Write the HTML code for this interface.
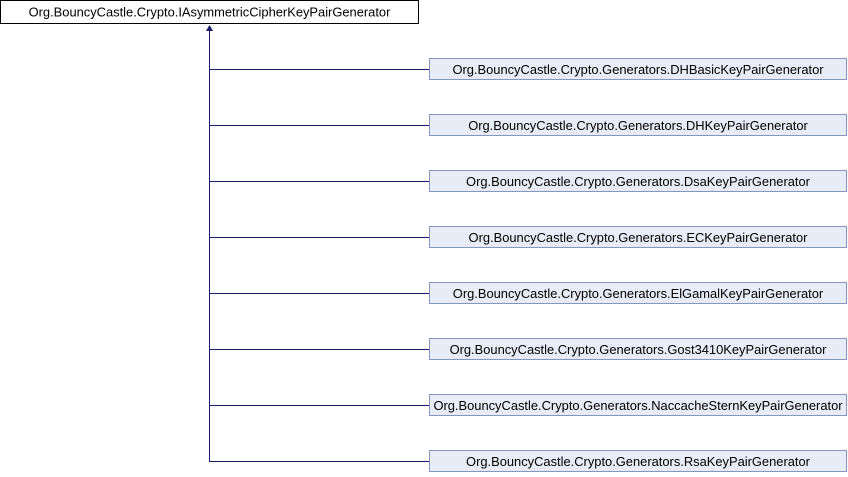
<!DOCTYPE html>
<html><head><meta charset="utf-8"><style>
body{margin:0;width:848px;height:472px;background:#fff;overflow:hidden}
</style></head><body>
<svg width="848" height="472" xmlns="http://www.w3.org/2000/svg" font-family="Liberation Sans, sans-serif" font-size="12.9">
<rect x="0.5" y="0.5" width="418" height="23" fill="#fff" stroke="#000"/>
<text x="209.5" y="16.5" text-anchor="middle" fill="#000">Org.BouncyCastle.Crypto.IAsymmetricCipherKeyPairGenerator</text>
<line x1="209.5" y1="30" x2="209.5" y2="461.5" stroke="#191970" stroke-width="1"/>
<polygon points="209.5,25 206,31 213,31" fill="#191970"/>
<g stroke="#191970" stroke-width="1">
<line x1="209" y1="69.5" x2="429" y2="69.5" stroke="#191970"/>
<line x1="209" y1="125.5" x2="429" y2="125.5" stroke="#191970"/>
<line x1="209" y1="181.5" x2="429" y2="181.5" stroke="#191970"/>
<line x1="209" y1="237.5" x2="429" y2="237.5" stroke="#191970"/>
<line x1="209" y1="293.5" x2="429" y2="293.5" stroke="#191970"/>
<line x1="209" y1="349.5" x2="429" y2="349.5" stroke="#191970"/>
<line x1="209" y1="405.5" x2="429" y2="405.5" stroke="#191970"/>
<line x1="209" y1="461.5" x2="429" y2="461.5" stroke="#191970"/>
</g>
<g fill="#e8ecf6" stroke="#8496c2">
<rect x="429.5" y="58.5" width="417" height="21"/>
<rect x="429.5" y="114.5" width="417" height="21"/>
<rect x="429.5" y="170.5" width="417" height="21"/>
<rect x="429.5" y="226.5" width="417" height="21"/>
<rect x="429.5" y="282.5" width="417" height="21"/>
<rect x="429.5" y="338.5" width="417" height="21"/>
<rect x="429.5" y="394.5" width="417" height="21"/>
<rect x="429.5" y="450.5" width="417" height="21"/>
</g>
<g text-anchor="middle" fill="#000">
<text x="638" y="74">Org.BouncyCastle.Crypto.Generators.DHBasicKeyPairGenerator</text>
<text x="638" y="130">Org.BouncyCastle.Crypto.Generators.DHKeyPairGenerator</text>
<text x="638" y="186">Org.BouncyCastle.Crypto.Generators.DsaKeyPairGenerator</text>
<text x="638" y="242">Org.BouncyCastle.Crypto.Generators.ECKeyPairGenerator</text>
<text x="638" y="298">Org.BouncyCastle.Crypto.Generators.ElGamalKeyPairGenerator</text>
<text x="638" y="354">Org.BouncyCastle.Crypto.Generators.Gost3410KeyPairGenerator</text>
<text x="638" y="410">Org.BouncyCastle.Crypto.Generators.NaccacheSternKeyPairGenerator</text>
<text x="638" y="466">Org.BouncyCastle.Crypto.Generators.RsaKeyPairGenerator</text>
</g>
</svg>
</body></html>
